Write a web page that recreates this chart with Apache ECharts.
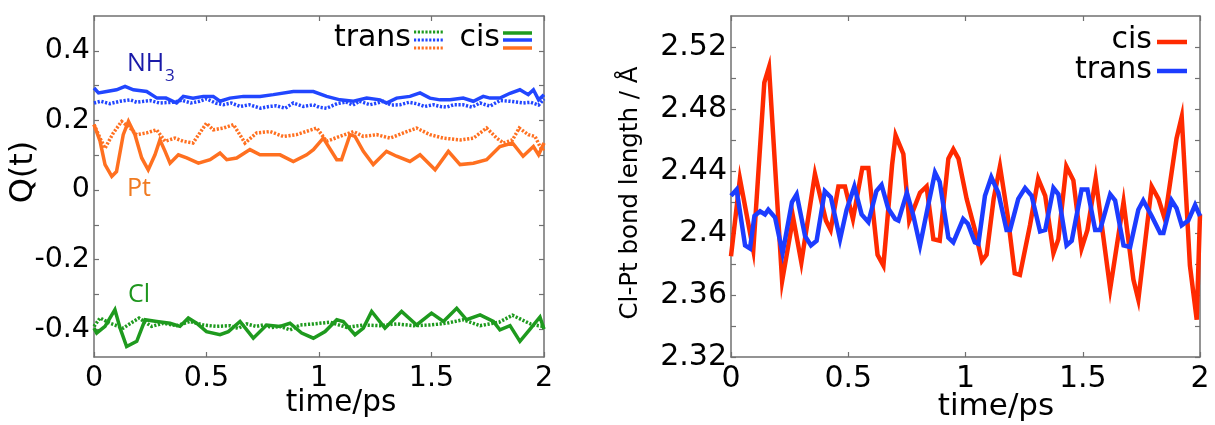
<!DOCTYPE html>
<html>
<head>
<meta charset="utf-8">
<script src="https://cdn.jsdelivr.net/npm/echarts@6/dist/echarts.min.js"></script>
<style>
html,body{margin:0;padding:0;background:#fff;}
#chart{width:1215px;height:425px;}
</style>
</head>
<body>
<div id="chart"></div>
<script>
// ---------- Left panel: Q(t) charges ----------
const nh3CisT = [0,0.02,0.056,0.10,0.138,0.175,0.234,0.28,0.32,0.367,0.397,0.44,0.486,0.53,0.56,0.604,0.664,0.738,0.797,0.886,0.975,1.034,1.093,1.153,1.212,1.271,1.30,1.345,1.404,1.449,1.493,1.538,1.582,1.641,1.686,1.73,1.76,1.804,1.849,1.893,1.93,1.953,1.976,2.0];
const nh3CisQ = [0.293,0.279,0.283,0.288,0.298,0.288,0.283,0.264,0.264,0.250,0.269,0.264,0.269,0.269,0.255,0.264,0.269,0.269,0.274,0.283,0.283,0.269,0.259,0.255,0.264,0.259,0.250,0.264,0.269,0.279,0.264,0.259,0.259,0.264,0.255,0.269,0.264,0.264,0.278,0.288,0.274,0.288,0.259,0.274];

const nh3TransT = [0,0.03,0.07,0.116,0.16,0.19,0.25,0.29,0.35,0.39,0.43,0.47,0.5,0.54,0.575,0.61,0.65,0.69,0.74,0.78,0.81,0.85,0.886,0.93,0.975,1.0,1.034,1.08,1.12,1.15,1.18,1.227,1.26,1.286,1.32,1.36,1.40,1.434,1.47,1.508,1.54,1.567,1.60,1.64,1.68,1.716,1.76,1.804,1.849,1.907,1.94,1.976,2.0];
const nh3TransQ = [0.250,0.255,0.248,0.255,0.259,0.252,0.257,0.250,0.252,0.258,0.250,0.255,0.262,0.250,0.245,0.250,0.240,0.245,0.235,0.240,0.242,0.235,0.250,0.240,0.245,0.238,0.235,0.248,0.253,0.244,0.255,0.245,0.250,0.255,0.244,0.245,0.252,0.248,0.240,0.245,0.240,0.238,0.245,0.245,0.238,0.250,0.241,0.257,0.255,0.250,0.252,0.244,0.262];

const ptCisT = [0,0.027,0.049,0.079,0.10,0.13,0.153,0.182,0.212,0.241,0.271,0.293,0.316,0.338,0.375,0.412,0.464,0.516,0.56,0.59,0.634,0.693,0.738,0.827,0.886,0.945,0.975,1.019,1.079,1.10,1.138,1.16,1.197,1.241,1.30,1.345,1.404,1.449,1.516,1.575,1.627,1.686,1.745,1.804,1.86,1.907,1.953,1.976,2.0];
const ptCisQ = [0.188,0.140,0.073,0.039,0.053,0.159,0.197,0.159,0.092,0.058,0.101,0.144,0.111,0.077,0.101,0.092,0.077,0.087,0.106,0.087,0.092,0.116,0.101,0.101,0.082,0.101,0.116,0.149,0.087,0.087,0.159,0.154,0.111,0.073,0.111,0.097,0.082,0.101,0.058,0.111,0.073,0.077,0.087,0.125,0.135,0.097,0.125,0.101,0.135];

const ptTransT = [0,0.027,0.049,0.086,0.123,0.16,0.19,0.234,0.278,0.316,0.36,0.397,0.44,0.50,0.53,0.575,0.62,0.671,0.723,0.782,0.841,0.90,0.99,1.034,1.093,1.153,1.197,1.256,1.316,1.375,1.434,1.493,1.553,1.627,1.686,1.745,1.79,1.82,1.86,1.89,1.93,1.96,1.99,2.0];
const ptTransQ = [0.188,0.149,0.120,0.164,0.197,0.178,0.159,0.164,0.173,0.140,0.149,0.140,0.135,0.192,0.173,0.178,0.188,0.135,0.164,0.168,0.154,0.159,0.178,0.140,0.154,0.168,0.154,0.159,0.149,0.164,0.178,0.159,0.149,0.144,0.149,0.178,0.149,0.135,0.144,0.178,0.159,0.154,0.115,0.120];

const clCisT = [0,0.012,0.049,0.093,0.116,0.145,0.19,0.227,0.279,0.338,0.382,0.419,0.456,0.50,0.56,0.597,0.649,0.708,0.767,0.827,0.871,0.923,0.975,1.027,1.079,1.108,1.16,1.197,1.234,1.293,1.367,1.434,1.50,1.553,1.612,1.656,1.716,1.775,1.804,1.849,1.893,1.938,1.982,2.0];
const clCisQ = [-0.397,-0.411,-0.392,-0.344,-0.397,-0.450,-0.435,-0.373,-0.378,-0.383,-0.392,-0.368,-0.383,-0.407,-0.416,-0.407,-0.378,-0.426,-0.388,-0.392,-0.383,-0.411,-0.426,-0.407,-0.373,-0.378,-0.416,-0.397,-0.349,-0.397,-0.349,-0.388,-0.354,-0.378,-0.340,-0.373,-0.359,-0.378,-0.402,-0.390,-0.435,-0.400,-0.365,-0.400];

const clTransT = [0,0.027,0.071,0.13,0.175,0.20,0.256,0.308,0.367,0.427,0.486,0.545,0.604,0.64,0.679,0.72,0.753,0.79,0.827,0.871,0.916,0.975,1.05,1.123,1.197,1.27,1.345,1.42,1.493,1.567,1.64,1.716,1.775,1.80,1.86,1.94,1.976,2.0];
const clTransQ = [-0.392,-0.368,-0.383,-0.397,-0.378,-0.368,-0.392,-0.383,-0.390,-0.378,-0.388,-0.392,-0.390,-0.398,-0.385,-0.392,-0.388,-0.395,-0.392,-0.402,-0.388,-0.385,-0.380,-0.395,-0.388,-0.390,-0.385,-0.390,-0.388,-0.383,-0.373,-0.390,-0.383,-0.380,-0.360,-0.385,-0.390,-0.392];

// ---------- Right panel: Cl-Pt bond length ----------
const bondCisT = [0,0.038,0.095,0.142,0.162,0.218,0.265,0.300,0.358,0.405,0.425,0.458,0.486,0.520,0.560,0.586,0.625,0.650,0.687,0.702,0.735,0.760,0.806,0.834,0.863,0.890,0.927,0.948,0.970,1.005,1.040,1.070,1.090,1.120,1.147,1.180,1.210,1.232,1.275,1.310,1.340,1.375,1.396,1.430,1.460,1.495,1.520,1.555,1.617,1.674,1.716,1.737,1.794,1.823,1.850,1.900,1.922,1.957,1.986,2.000];
const bondCisL = [2.385,2.435,2.389,2.497,2.507,2.369,2.410,2.381,2.438,2.408,2.402,2.430,2.430,2.409,2.442,2.442,2.386,2.379,2.444,2.463,2.451,2.408,2.426,2.430,2.396,2.395,2.448,2.454,2.448,2.422,2.402,2.382,2.386,2.422,2.443,2.411,2.374,2.373,2.405,2.435,2.424,2.387,2.396,2.443,2.434,2.390,2.402,2.435,2.364,2.420,2.370,2.357,2.430,2.422,2.409,2.461,2.475,2.379,2.344,2.412];

const bondTransT = [0,0.024,0.060,0.081,0.100,0.124,0.145,0.159,0.188,0.220,0.260,0.280,0.316,0.341,0.365,0.400,0.426,0.465,0.493,0.526,0.557,0.586,0.620,0.642,0.670,0.700,0.714,0.750,0.778,0.806,0.841,0.870,0.890,0.927,0.948,0.990,1.010,1.040,1.055,1.083,1.110,1.140,1.175,1.190,1.225,1.254,1.282,1.318,1.340,1.375,1.396,1.431,1.453,1.495,1.520,1.553,1.574,1.617,1.638,1.674,1.702,1.737,1.758,1.794,1.830,1.844,1.879,1.900,1.922,1.950,1.979,2.000];
const bondTransL = [2.424,2.428,2.392,2.390,2.411,2.414,2.412,2.415,2.410,2.387,2.420,2.425,2.398,2.392,2.395,2.427,2.423,2.396,2.415,2.430,2.412,2.407,2.427,2.431,2.416,2.409,2.408,2.426,2.411,2.392,2.418,2.439,2.433,2.397,2.394,2.409,2.406,2.394,2.393,2.424,2.436,2.426,2.402,2.402,2.422,2.429,2.424,2.401,2.402,2.429,2.425,2.392,2.395,2.428,2.428,2.402,2.402,2.425,2.421,2.392,2.391,2.415,2.421,2.411,2.400,2.400,2.421,2.416,2.405,2.408,2.418,2.411];

// ---------- Tick values ----------
const timeTicks = [0, 0.5, 1, 1.5, 2];
const qLabels = [-0.4, -0.2, 0, 0.2, 0.4];
const qTicks = [-0.4, -0.3, -0.2, -0.1, 0, 0.1, 0.2, 0.3, 0.4];
const bondLabels = [2.32, 2.36, 2.4, 2.44, 2.48, 2.52];
const bondTicks = [2.32, 2.34, 2.36, 2.38, 2.4, 2.42, 2.44, 2.46, 2.48, 2.50, 2.52];

function pairs(t, v) { return t.map((x, i) => [x, v[i]]); }

const FONT = 'DejaVu Sans';
const AXIS_COLOR = '#707070';
const BLUE_L = '#2146ff';
const ORANGE_L = '#ff7020';
const GREEN_L = '#1e9a1e';
const RED_R = '#ff2a00';
const BLUE_R = '#1c3cff';

function xAx(grid, pos, showLabel, fontSize) {
  return {
    type: 'value', gridIndex: grid, position: pos, min: 0, max: 2,
    axisLine: { show: true, onZero: false, lineStyle: { color: AXIS_COLOR, width: 1.5 } },
    axisTick: { show: true, inside: true, length: 5, customValues: timeTicks, lineStyle: { color: AXIS_COLOR, width: 1.2 } },
    axisLabel: { show: showLabel, customValues: timeTicks, fontSize: fontSize, fontFamily: FONT, color: '#000', margin: 7 },
    splitLine: { show: false }
  };
}
function yAx(grid, pos, showLabel, min, max, ticks, labels, fontSize) {
  return {
    type: 'value', gridIndex: grid, position: pos, min: min, max: max,
    axisLine: { show: true, onZero: false, lineStyle: { color: AXIS_COLOR, width: 1.5 } },
    axisTick: { show: true, inside: true, length: 5, customValues: ticks, lineStyle: { color: AXIS_COLOR, width: 1.2 } },
    axisLabel: { show: showLabel, customValues: labels, fontSize: fontSize, fontFamily: FONT, color: '#000', margin: 4 },
    splitLine: { show: false }
  };
}
function line(name, xi, yi, data, color, width, dotted, z) {
  return {
    name: name, type: 'line', xAxisIndex: xi, yAxisIndex: yi, data: data,
    symbol: 'none', showSymbol: false, animation: false, z: z,
    lineStyle: { color: color, width: width, type: dotted ? [2.2, 1.6] : 'solid', cap: 'butt', join: 'miter' }
  };
}

const chart = echarts.init(document.getElementById('chart'), null, { renderer: 'canvas' });
const txt = (x, y, text, size, color, align, extra) => Object.assign({
  type: 'text', x: x, y: y,
  style: { text: text, font: size + 'px "' + FONT + '"', fill: color, align: align, verticalAlign: 'middle' }
}, extra || {});
const seg = (x1, y1, x2, y2, color, w, dash) => ({
  type: 'line', shape: { x1: x1, y1: y1, x2: x2, y2: y2 },
  style: { stroke: color, lineWidth: w, lineDash: dash || null }
});

chart.setOption({
  animation: false,
  backgroundColor: '#fff',
  grid: [
    { left: 94, top: 16, width: 450, height: 341 },
    { left: 731, top: 16, width: 469, height: 341 }
  ],
  xAxis: [
    xAx(0, 'bottom', true, 28.5), xAx(0, 'top', false, 28.5),
    xAx(1, 'bottom', true, 30), xAx(1, 'top', false, 30)
  ],
  yAxis: [
    yAx(0, 'left', true, -0.48, 0.5, qTicks, qLabels, 28.5),
    yAx(0, 'right', false, -0.48, 0.5, qTicks, qLabels, 28.5),
    yAx(1, 'left', true, 2.32, 2.54, bondTicks, bondLabels, 30),
    yAx(1, 'right', false, 2.32, 2.54, bondTicks, bondLabels, 30)
  ],
  series: [
    line('NH3 trans', 0, 0, pairs(nh3TransT, nh3TransQ), BLUE_L, 3.5, true, 2),
    line('Pt trans', 0, 0, pairs(ptTransT, ptTransQ), ORANGE_L, 3.5, true, 2),
    line('Cl trans', 0, 0, pairs(clTransT, clTransQ), GREEN_L, 3.5, true, 2),
    line('NH3 cis', 0, 0, pairs(nh3CisT, nh3CisQ), BLUE_L, 3.5, false, 3),
    line('Pt cis', 0, 0, pairs(ptCisT, ptCisQ), ORANGE_L, 3.5, false, 3),
    line('Cl cis', 0, 0, pairs(clCisT, clCisQ), GREEN_L, 3.5, false, 3),
    line('cis', 2, 2, pairs(bondCisT, bondCisL), RED_R, 4.5, false, 2),
    line('trans', 2, 2, pairs(bondTransT, bondTransL), BLUE_R, 4.5, false, 3)
  ],
  graphic: [
    // left axis titles
    txt(24, 172, 'Q(t)', 32, '#000', 'center', { rotation: Math.PI / 2 }),
    txt(341, 403, 'time/ps', 29.5, '#000', 'center'),
    // left legend
    txt(411, 38, 'trans', 30, '#000', 'right'),
    seg(414, 32, 443, 32, GREEN_L, 3, [2.2, 1.6]),
    seg(414, 40, 443, 40, BLUE_L, 3, [2.2, 1.6]),
    seg(414, 48, 443, 48, ORANGE_L, 3, [2.2, 1.6]),
    txt(500, 38, 'cis', 30, '#000', 'right'),
    seg(503, 33, 532, 33, GREEN_L, 3.5),
    seg(503, 40, 532, 40, BLUE_L, 3.5),
    seg(503, 48, 532, 48, ORANGE_L, 3.5),
    // left in-plot labels
    { type: 'text', x: 127, y: 64, style: { text: 'NH', font: '25px "Open Sans"', fill: '#1a1aa8', align: 'left', verticalAlign: 'middle' } },
    { type: 'text', x: 165, y: 76, style: { text: '3', font: '17px "Open Sans"', fill: '#1a1aa8', align: 'left', verticalAlign: 'middle' } },
    { type: 'text', x: 127, y: 189, style: { text: 'Pt', font: '25px "Open Sans"', fill: '#f07a20', align: 'left', verticalAlign: 'middle' } },
    { type: 'text', x: 128, y: 295, style: { text: 'Cl', font: '25px "Open Sans"', fill: '#1e961e', align: 'left', verticalAlign: 'middle' } },
    // right axis titles
    txt(631, 193, 'Cl-Pt bond length / Å', 24.5, '#000', 'center', { rotation: Math.PI / 2 }),
    txt(996, 407, 'time/ps', 31, '#000', 'center'),
    // right legend
    txt(1152, 40, 'cis', 30, '#000', 'right'),
    seg(1157, 42, 1187, 42, RED_R, 4.5),
    txt(1152, 70, 'trans', 30, '#000', 'right'),
    seg(1157, 71, 1187, 71, BLUE_R, 4.5)
  ]
});
</script>
</body>
</html>
